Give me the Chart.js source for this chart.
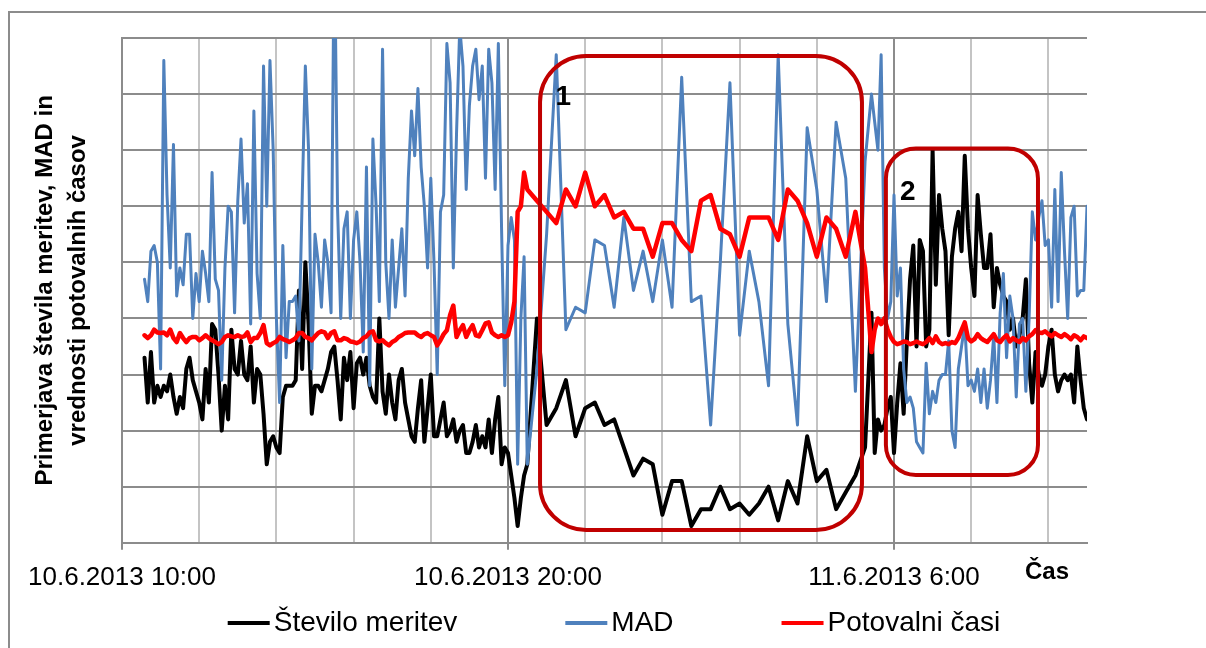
<!DOCTYPE html>
<html>
<head>
<meta charset="utf-8">
<script src="https://cdn.jsdelivr.net/npm/chart.js@4.4.0/dist/chart.umd.min.js"></script>
<style>
    html, body { margin: 0; padding: 0; background: #FFFFFF; }
    #wrap { position: relative; width: 1206px; height: 648px; }
</style>
</head>
<body>
<div id="wrap"><canvas id="travel-times" width="1206" height="648"></canvas></div>
<script>
// time stamps, minutes after 10.6.2013 00:00
const minutes = [
    635, 640, 645, 650, 655, 660, 665, 670, 675, 680, 685, 690,
    695, 700, 705, 710, 715, 720, 725, 730, 735, 740, 745, 750,
    755, 760, 765, 770, 775, 780, 785, 790, 795, 800, 805, 810,
    815, 820, 825, 830, 835, 840, 845, 850, 855, 860, 865, 870,
    875, 880, 885, 890, 895, 900, 905, 910, 915, 920, 925, 930,
    935, 940, 945, 950, 955, 960, 965, 970, 975, 980, 985, 990,
    995, 1000, 1005, 1010, 1015, 1020, 1025, 1030, 1035, 1040, 1045, 1050,
    1055, 1060, 1065, 1070, 1075, 1080, 1085, 1090, 1095, 1100, 1105, 1110,
    1115, 1120, 1125, 1130, 1135, 1140, 1145, 1150, 1155, 1160, 1165, 1170,
    1175, 1180, 1185, 1190, 1195, 1200, 1205, 1210, 1215, 1220, 1225, 1230,
    // night, every 15 min
    1245, 1260, 1275, 1290, 1305, 1320, 1335, 1350, 1365, 1380, 1395, 1410,
    1425, 1440, 1455, 1470, 1485, 1500, 1515, 1530, 1545, 1560, 1575, 1590,
    1605, 1620, 1635, 1650, 1665, 1680, 1695, 1710, 1725, 1740, 1755,
    // 11.6. morning
    1765, 1770, 1775, 1780, 1785, 1790, 1795, 1800, 1805, 1810, 1815, 1820,
    1825, 1830, 1835, 1840, 1845, 1850, 1855, 1860, 1865, 1870, 1875, 1880,
    1885, 1890, 1895, 1900, 1905, 1910, 1915, 1920, 1925, 1930, 1935, 1940,
    1945, 1950, 1955, 1960, 1965, 1970, 1975, 1980, 1985, 1990, 1995, 2000,
    2005, 2010, 2015, 2020, 2025, 2030, 2035, 2040, 2045, 2050, 2055, 2060,
    2065, 2070, 2075, 2080, 2085, 2090, 2095, 2100
];

const steviloMeritev = [
    33, 25, 34, 25, 28, 26, 28, 27, 30, 26, 23, 26,
    24, 31, 33, 29, 27, 25, 22, 31, 25, 39, 38, 30,
    20, 28, 22, 38, 31, 30, 36, 30, 29, 35, 25, 31,
    30, 23, 14, 18, 19, 17, 16, 26, 28, 28, 28, 29,
    45, 31, 50, 39, 23, 28, 28, 27, 29, 31, 34, 35,
    29, 22, 33, 29, 34, 24, 32, 33, 30, 33, 28, 26,
    25, 40, 27, 23, 30, 25, 22, 29, 31, 25, 22, 19,
    18, 24, 29, 18, 24, 30, 19, 19, 22, 25, 19, 20,
    22, 18, 20, 21, 16, 16, 18, 21, 17, 19, 17, 22,
    16, 22, 26, 14, 17, 16, 12, 8, 3, 8, 12, 14,
    40, 21, 24, 29, 19, 24, 25, 21, 22, 17, 12, 15,
    14, 5, 11, 11, 3, 6, 6, 10, 6, 7, 5, 7,
    10, 4, 11, 7, 19, 11, 13, 6, 9, 12, 17,
    41, 16, 22, 20, 21, 24, 26, 16, 25, 32, 23, 36,
    47, 53, 35, 54, 52, 35, 38, 70, 46, 62, 56, 52,
    37, 51, 56, 59, 52, 69, 56, 49, 44, 62, 55, 49,
    49, 55, 42, 49, 46, 44, 43, 38, 40, 35, 37, 40,
    47, 32, 25, 34, 30, 28, 30, 35, 38, 30, 27, 29,
    30, 29, 30, 25, 35, 29, 24, 22
];

const mad = [
    47, 43, 52, 53, 50, 31, 86, 62, 49, 71, 44, 49,
    46, 55, 55, 40, 48, 43, 52, 48, 43, 66, 47, 45,
    29, 49, 60, 59, 41, 61, 72, 57, 64, 39, 77, 48,
    40, 85, 60, 86, 70, 40, 25, 53, 33, 43, 43, 44,
    36, 61, 85, 70, 31, 55, 50, 42, 54, 50, 41, 110,
    60, 40, 56, 59, 40, 54, 59, 50, 34, 67, 28, 72,
    60, 43, 88, 50, 40, 54, 42, 49, 56, 44, 65, 77,
    69, 81, 67, 60, 49, 65, 50, 30, 59, 62, 89, 82,
    49, 73, 92, 85, 63, 78, 85, 88, 79, 85, 65, 88,
    82, 63, 89, 56, 28, 53, 58, 54, 14, 40, 51, 14,
    31, 55, 87, 38, 42, 41, 54, 53, 42, 58, 45, 52,
    43, 54, 42, 83, 43, 44, 21, 50, 82, 37, 52, 43,
    28, 87, 39, 21, 74, 63, 43, 75, 65, 27, 68,
    80, 75, 70, 87, 49, 40, 43, 62, 44, 49, 31, 25,
    26, 24, 18, 17, 16, 32, 23, 27, 25, 29, 30, 30,
    36, 20, 17, 31, 35, 39, 28, 29, 27, 31, 25, 31,
    24, 29, 37, 25, 41, 48, 33, 44, 40, 26, 39, 40,
    27, 40, 59, 54, 58, 61, 53, 54, 42, 63, 43, 66,
    52, 40, 58, 60, 44, 45, 45, 60
];

const potovalniCasi = [
    37, 36.5, 37, 38, 37.5, 37.4, 37.5, 37, 38, 36.5, 35.8, 37.4,
    36.5, 35.8, 36.5, 36.7, 36.7, 36.1, 36.5, 37, 36.5, 36.1, 35.8, 35.4,
    35.8, 36.7, 37, 36.8, 36.7, 37, 36.7, 36.8, 37.5, 35.8, 36.5, 36.5,
    37.4, 38.8, 35.6, 35.2, 35.6, 35.9, 36.7, 36.3, 36.1, 35.8, 36.1, 36.5,
    37.4, 37.4, 36.7, 36.5, 36.1, 36.8, 37.4, 37.7, 37.5, 36.5, 37.4, 37.7,
    36.1, 36.1, 36.5, 36.3, 35.9, 35.8, 35.6, 35.9, 36.5, 36.8, 37.5, 37.7,
    36.1, 35.9, 36.1, 35.6, 35.2, 35.8, 36.1, 36.7, 37, 37.4, 37.5, 37.5,
    37.5, 37, 36.7, 37.2, 37.4, 37, 36.7, 35.2, 36.1, 37.2, 37.9, 40.6,
    42.3, 36.7, 37.9, 38.8, 36.7, 37.9, 38.8, 37, 36.8, 37.9, 39.1, 39.3,
    37.5, 37, 36.7, 37, 36.7, 37, 39.3, 43, 59, 60, 66, 63,
    61, 59, 57, 63, 60, 66, 60, 62, 58, 59, 56, 56,
    51, 57, 57, 54, 52, 61, 62, 56, 55, 51, 58, 58,
    58, 54, 63, 61, 57, 51, 58, 56, 51, 59, 49,
    34, 38, 40, 39, 40, 38, 36.7, 35.8, 35.4, 35.6, 35.9, 35.8,
    35.4, 35.6, 35.9, 35.6, 35.4, 35.8, 36.5, 35.6, 36.8, 35.8, 35.4, 35.6,
    35.4, 35.8, 35.6, 36.5, 37.9, 39.3, 36.5, 35.9, 36.3, 37.2, 36.5, 36.1,
    35.8, 36.5, 37.2, 36.1, 35.8, 36.5, 37, 35.9, 36.5, 36.1, 35.8, 36.5,
    36.1, 36.8, 37.2, 37.9, 37.5, 37.4, 37.7, 37.2, 36.8, 37.4, 37, 36.7,
    37.2, 36.8, 36.3, 37, 36.7, 36.1, 36.8, 36.5
];

// labelled hours on the time axis (hours after 10.6.2013 00:00)
const tickHours = [10, 20, 30];
const tickLabels = ['10.6.2013 10:00', '10.6.2013 20:00', '11.6.2013 6:00'];

const seriesNames = ['Število meritev', 'MAD', 'Potovalni časi'];
const seriesColors = ['#000000', '#4F81BD', '#FF0000'];

// marked periods
const periods = [
    { label: '1', from: 20.83, to: 29.17, top: 86.8, bottom: 2.3, radius: 46, labelX: 21.43, labelY: 79.5 },
    { label: '2', from: 29.79, to: 33.73, top: 70.3, bottom: 12.1, radius: 30, labelX: 30.36, labelY: 62.5 }
];

const FONT = "'Liberation Sans', Arial, sans-serif";

const toPoints = (values) => values.map((v, i) => ({ x: minutes[i] / 60, y: v }));

const isMajor = (v) => tickHours.indexOf(v) >= 0;

// frame, axis titles, legend and marked periods
const decorations = {
    id: 'decorations',
    beforeDraw(chart) {
        const ctx = chart.ctx;
        ctx.save();
        ctx.fillStyle = '#FFFFFF';
        ctx.fillRect(0, 0, chart.width, chart.height);
        ctx.strokeStyle = '#8C8C8C';
        ctx.lineWidth = 2;
        ctx.beginPath();
        ctx.moveTo(9, chart.height);
        ctx.lineTo(9, 12);
        ctx.lineTo(chart.width, 12);
        ctx.stroke();
        ctx.restore();
    },
    afterDatasetsDraw(chart) {
        const ctx = chart.ctx;
        const xs = chart.scales.x;
        const ys = chart.scales.y;
        ctx.save();
        periods.forEach(p => {
            const x1 = xs.getPixelForValue(p.from);
            const x2 = xs.getPixelForValue(p.to);
            const y1 = ys.getPixelForValue(p.top);
            const y2 = ys.getPixelForValue(p.bottom);
            ctx.strokeStyle = '#C00000';
            ctx.lineWidth = 4;
            ctx.beginPath();
            ctx.roundRect(x1, y1, x2 - x1, y2 - y1, p.radius);
            ctx.stroke();
            ctx.fillStyle = '#000000';
            ctx.font = 'bold 28px ' + FONT;
            ctx.textAlign = 'center';
            ctx.textBaseline = 'middle';
            ctx.fillText(p.label, xs.getPixelForValue(p.labelX), ys.getPixelForValue(p.labelY));
        });
        ctx.restore();
    },
    afterDraw(chart) {
        const ctx = chart.ctx;
        const area = chart.chartArea;
        ctx.save();

        // y axis title, two lines
        const midY = (area.top + area.bottom) / 2;
        ctx.fillStyle = '#000000';
        ctx.font = 'bold 24px ' + FONT;
        ctx.textAlign = 'center';
        ctx.textBaseline = 'middle';
        [['Primerjava števila meritev, MAD in', area.left - 77], ['vrednosti potovalnih časov', area.left - 44]].forEach(([text, x]) => {
            ctx.save();
            ctx.translate(x, midY);
            ctx.rotate(-Math.PI / 2);
            ctx.fillText(text, 0, 0);
            ctx.restore();
        });

        // x axis title
        ctx.font = 'bold 24px ' + FONT;
        ctx.fillText('Čas', area.right - 40, area.bottom + 30);

        // legend
        ctx.font = '28px ' + FONT;
        ctx.textAlign = 'left';
        const sample = 42;
        const gap = 108;
        const widths = seriesNames.map(n => ctx.measureText(n).width);
        const total = widths.reduce((a, w) => a + sample + 4 + w, 0) + gap * (seriesNames.length - 1);
        let x = chart.width / 2 + 11 - total / 2;
        const y = chart.height - 25;
        seriesNames.forEach((name, i) => {
            ctx.strokeStyle = seriesColors[i];
            ctx.lineWidth = 4;
            ctx.beginPath();
            ctx.moveTo(x, y);
            ctx.lineTo(x + sample, y);
            ctx.stroke();
            ctx.fillStyle = '#000000';
            ctx.fillText(name, x + sample + 4, y);
            x += sample + 4 + widths[i] + gap;
        });
        ctx.restore();
    }
};

const lineStyle = (i, width, order) => ({
    label: seriesNames[i],
    borderColor: seriesColors[i],
    backgroundColor: seriesColors[i],
    borderWidth: width,
    tension: 0,
    fill: false,
    pointRadius: 0,
    borderJoinStyle: 'round',
    borderCapStyle: 'round',
    order: order
});

const travelChart = new Chart(document.getElementById('travel-times').getContext('2d'), {
    type: 'line',
    data: {
        datasets: [
            { ...lineStyle(0, 4, 2), data: toPoints(steviloMeritev) },
            { ...lineStyle(1, 3, 1), data: toPoints(mad) },
            { ...lineStyle(2, 4.5, 0), data: toPoints(potovalniCasi) }
        ]
    },
    options: {
        responsive: false,
        animation: false,
        devicePixelRatio: 1,
        layout: {
            padding: { top: 38, left: 122, right: 119, bottom: 43 }
        },
        plugins: {
            legend: { display: false },
            tooltip: { enabled: false }
        },
        scales: {
            x: {
                type: 'linear',
                min: 10,
                max: 35,
                border: { display: true, color: '#8C8C8C', width: 2 },
                grid: {
                    color: (c) => isMajor(c.tick && c.tick.value) ? '#8C8C8C' : '#C4C4C4',
                    lineWidth: 2,
                    drawTicks: true,
                    tickLength: 7,
                    tickColor: (c) => isMajor(c.tick && c.tick.value) ? '#8C8C8C' : 'rgba(0,0,0,0)'
                },
                ticks: {
                    stepSize: 2,
                    includeBounds: false,
                    autoSkip: false,
                    maxRotation: 0,
                    minRotation: 0,
                    padding: 12,
                    color: '#000000',
                    font: { size: 26, family: FONT },
                    callback: (value) => {
                        const i = tickHours.indexOf(value);
                        return i >= 0 ? tickLabels[i] : '';
                    }
                }
            },
            y: {
                min: 0,
                max: 90,
                border: { display: true, color: '#8C8C8C', width: 2 },
                grid: {
                    color: '#8C8C8C',
                    lineWidth: 2,
                    drawTicks: false
                },
                ticks: {
                    stepSize: 10,
                    display: false
                }
            }
        }
    },
    plugins: [decorations]
});
</script>
</body>
</html>
